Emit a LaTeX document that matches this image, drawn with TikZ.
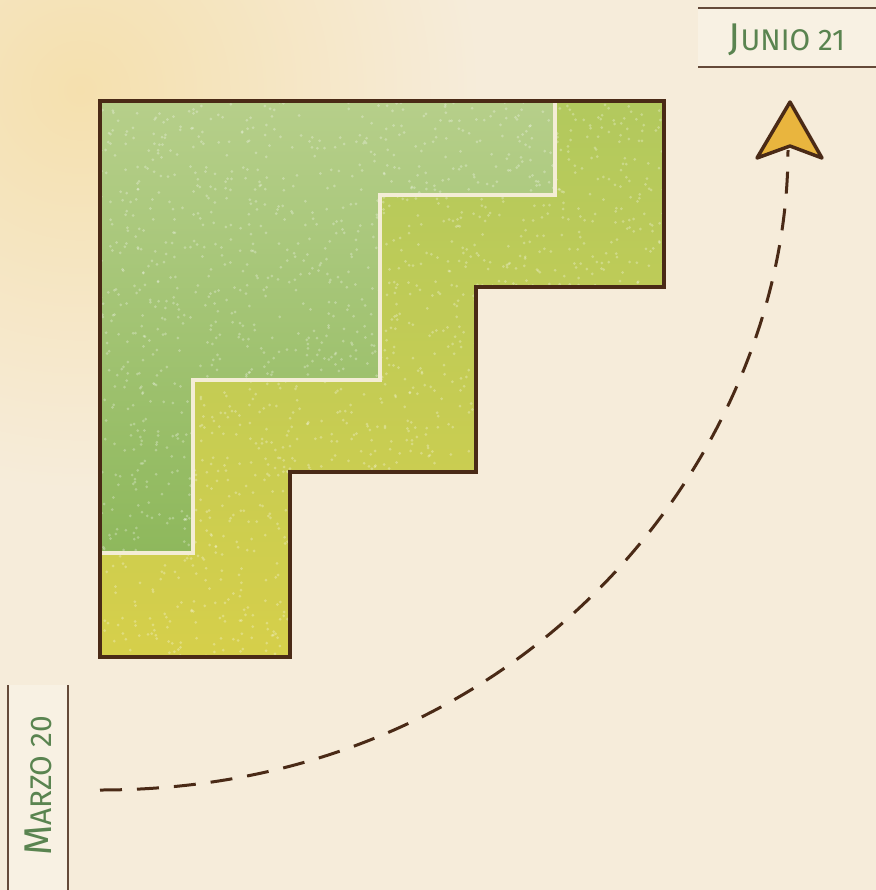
\documentclass[tikz,border=0pt]{standalone}
\usepackage{fontspec}
\setmainfont{Fira Sans}
\usetikzlibrary{positioning}
\definecolor{parch}{HTML}{F6ECDA}
\definecolor{parchsun}{HTML}{F5E0AE}
\definecolor{wallbrown}{HTML}{4A2A16}
\definecolor{leafhi}{HTML}{B6CF8A}
\definecolor{leaflo}{HTML}{8EB85C}
\definecolor{bandgreen}{HTML}{B2C95E}
\definecolor{bandyellow}{HTML}{D6CF4A}
\definecolor{seamcol}{HTML}{F4EDD6}
\definecolor{labgreen}{HTML}{5A8450}
\definecolor{tipgold}{HTML}{E9B53E}

\begin{document}
\begin{tikzpicture}[
  x=0.02cm, y=-0.02cm,
  wall/.style={draw=wallbrown, line width=0.08cm, line join=miter},
  seam/.style={draw=seamcol, line width=0.09cm},
  rule/.style={draw=wallbrown!85, line width=0.035cm},
  datelabel/.style={font=\fontsize{17}{17}\selectfont, text=labgreen, inner sep=0pt},
  trail/.style={draw=wallbrown, line width=0.06cm, dash pattern=on 0.44cm off 0.3cm},
]
\useasboundingbox (0,0) rectangle (876,890);

% paper
\fill[parch] (0,0) rectangle (876,890);
\begin{scope}
  \clip (0,0) rectangle (876,890);
  \shade[inner color=parchsun, outer color=parch] (80,90) circle (400);
\end{scope}

% date labels
\fill[parch!75!white] (698,8) rectangle (876,67);
\draw[rule] (698,8) -- (876,8);
\draw[rule] (698,67) -- (876,67);
\node[datelabel] (junio) at (787,40) {{\fontsize{22}{22}\selectfont J}UNIO 21};

\fill[parch!75!white] (8,685) rectangle (68,890);
\draw[rule] (8,685) -- (8,890);
\draw[rule] (68,685) -- (68,890);
\node[datelabel, rotate=90] (marzo) at (38,786) {{\fontsize{22}{22}\selectfont M}ARZO 20};

% stepped block: outer band
\shade[top color=bandgreen, bottom color=bandyellow]
  (100,101) -- (664,101) -- (664,287) -- (476,287) -- (476,472)
  -- (290,472) -- (290,657) -- (100,657) -- cycle;
% inner region
\shade[top color=leafhi, bottom color=leaflo]
  (100,101) -- (555,101) -- (555,195) -- (380,195) -- (380,380)
  -- (193,380) -- (193,553) -- (100,553) -- cycle;

% speckle texture
\begin{scope}
  \clip (100,101) -- (664,101) -- (664,287) -- (476,287) -- (476,472)
    -- (290,472) -- (290,657) -- (100,657) -- cycle;
  \pgfmathsetseed{21}
  \foreach \i in {1,...,2200} {
    \fill[white, opacity=0.28] ({382+282*rand},{379+278*rand}) circle (1.5);
  }
\end{scope}

\draw[seam] (555,101) -- (555,195) -- (380,195) -- (380,380)
  -- (193,380) -- (193,553) -- (100,553);
\draw[wall]
  (100,101) -- (664,101) -- (664,287) -- (476,287) -- (476,472)
  -- (290,472) -- (290,657) -- (100,657) -- cycle;

% path from march to june
\coordinate (start) at (100,790);
\coordinate (goal) at (788,150);
\draw[trail] (start) .. controls (530,790) and (788,450) .. (goal);

% arrow head
\draw[draw=wallbrown, fill=tipgold, line width=0.07cm, line join=round]
  (790,102) -- (822,158) -- (790,146) -- (757,158) -- cycle;

\end{tikzpicture}
\end{document}
